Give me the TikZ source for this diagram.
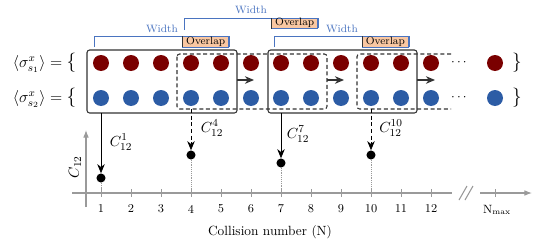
\documentclass[tikz,border=0pt]{standalone}
\usepackage{amsmath,amssymb}
\usetikzlibrary{arrows.meta,positioning}
\definecolor{ballred}{HTML}{7A0000}
\definecolor{ballblue}{HTML}{2C5CA5}
\definecolor{brblue}{HTML}{4A74C0}
\definecolor{ovfill}{HTML}{F9C7A2}
\definecolor{boxgray}{HTML}{333333}
\definecolor{axgray}{HTML}{9A9A9A}
\newcommand{\sigone}{\ensuremath{\langle\sigma^{x}_{s_1}\rangle = \text{\Large\{}}}
\newcommand{\sigtwo}{\ensuremath{\langle\sigma^{x}_{s_2}\rangle = \text{\Large\{}}}

\begin{document}
\begin{tikzpicture}[x=0.75pt, y=-0.75pt,
    redball/.style={circle, fill=ballred, minimum size=12pt, inner sep=0pt},
    blueball/.style={circle, fill=ballblue, minimum size=12pt, inner sep=0pt},
    winbox/.style={draw=boxgray, thick, rounded corners=2pt},
    winshift/.style={draw=boxgray, thick, densely dashed, rounded corners=2pt},
    ovbox/.style={draw=brblue, fill=ovfill, inner sep=0pt, font=\footnotesize},
    bracket/.style={draw=brblue},
    slidearrow/.style={draw=boxgray, thick, -{Stealth[length=2.4mm, width=2mm]}},
    cpoint/.style={circle, fill=black, minimum size=6.8pt, inner sep=0pt},
    clabel/.style={font=\fontsize{11}{13}\selectfont},
    axis/.style={draw=axgray, thick}]
  \useasboundingbox (0,0) rectangle (537,243);
  % spin rows
  \foreach \i in {1,...,12} {
    \node[redball] (r\i) at ({71+30*\i},63) {};
    \node[blueball] (b\i) at ({71+30*\i},98) {};
  }
  \node[redball] (rN) at (495,63) {};
  \node[blueball] (bN) at (495,98) {};
  \node (rdots) at (460,63) {$\cdots$};
  \node (bdots) at (460,98) {$\cdots$};
  \node[anchor=east, font=\large] (lab1) at (81,63) {\sigone};
  \node[anchor=east, font=\large] (lab2) at (81,98) {\sigtwo};
  \node[font=\Large] (rb1) at (517,63) {\}};
  \node[font=\Large] (rb2) at (517,98) {\}};
  % windows
  \draw[winbox] (87,50) rectangle (237,113);
  \draw[winshift] (177,54) rectangle (327,109);
  \draw[winbox] (268,50) rectangle (417,113);
  \draw[winshift] (451,54) -- (357,54) -- (357,109) -- (451,109);
  \coordinate (s1) at (237,80);
  \coordinate (s2) at (327,80);
  \coordinate (s3) at (417,80);
  \draw[slidearrow] (s1) -- ++(17,0);
  \draw[slidearrow] (s2) -- ++(17,0);
  \draw[slidearrow] (s3) -- ++(18,0);
  % width / overlap brackets
  \draw[bracket] (94,47) -- (94,36) -- (229,36) -- (229,47);
  \node[ovbox, minimum width=34.5pt, minimum height=8pt, anchor=north east] (ov1) at (229,36) {Overlap};
  \draw[boxgray] (ov1.north west) -- (ov1.south west);
  \node[text=brblue, font=\footnotesize] (w1) at (162,29) {Width};
  \draw[bracket] (184,30) -- (184,18) -- (318,18) -- (318,28);
  \node[ovbox, minimum width=34.5pt, minimum height=7.5pt, anchor=north east] (ov2) at (318,18) {Overlap};
  \draw[boxgray] (ov2.north west) -- (ov2.south west);
  \node[text=brblue, font=\footnotesize] (w2) at (251,10) {Width};
  \draw[bracket] (274,47) -- (274,36) -- (409,36) -- (409,47);
  \node[ovbox, minimum width=35pt, minimum height=8pt, anchor=north east] (ov3) at (409,36) {Overlap};
  \draw[boxgray] (ov3.north west) -- (ov3.south west);
  \node[text=brblue, font=\footnotesize] (w3) at (342,29) {Width};
  % axes
  \draw[axis] (72,193) -- (452,193);
  \draw[axis] (459,200) -- (467,186);
  \draw[axis] (465,200) -- (473,186);
  \draw[axis, -{Latex[length=2mm]}] (480,193) -- (532,193);
  \draw[axis, -{Latex[length=2mm]}] (86,207) -- (86,130);
  \foreach \i in {1,...,12} {
    \draw[axis, thin] ({71+30*\i},189) -- ({71+30*\i},197);
    \node[font=\small] (t\i) at ({71+30*\i},209) {\i};
  }
  \draw[axis, thin] (495,189) -- (495,197);
  \node[font=\small] (tN) at (497,210) {N$_{\text{max}}$};
  \node[rotate=90, clabel] (ylab) at (75,167) {$C_{12}$};
  \node (xlab) at (270,232) {Collision number (N)};
  % correlation points
  \node[cpoint] (p1) at (101,178) {};
  \node[cpoint] (p4) at (191,155) {};
  \node[cpoint] (p7) at (281,163) {};
  \node[cpoint] (p10) at (371,155) {};
  \foreach \p in {p1,p4,p7,p10}
    \draw[axgray, densely dotted] (\p) -- (\p |- 0,193);
  \draw[semithick, -{Stealth[length=2.4mm, width=2mm]}] (101,113) -- (p1);
  \draw[semithick, densely dashed, -{Stealth[length=2.4mm, width=2mm]}] (191,109) -- (p4);
  \draw[semithick, -{Stealth[length=2.4mm, width=2mm]}] (281,113) -- (p7);
  \draw[semithick, densely dashed, -{Stealth[length=2.4mm, width=2mm]}] (371,109) -- (p10);
  \node[clabel] (c1) at (121,142) {$C^{1}_{12}$};
  \node[clabel] (c4) at (212,128) {$C^{4}_{12}$};
  \node[clabel] (c7) at (298,134) {$C^{7}_{12}$};
  \node[clabel] (c10) at (391,128) {$C^{10}_{12}$};
\end{tikzpicture}
\end{document}
